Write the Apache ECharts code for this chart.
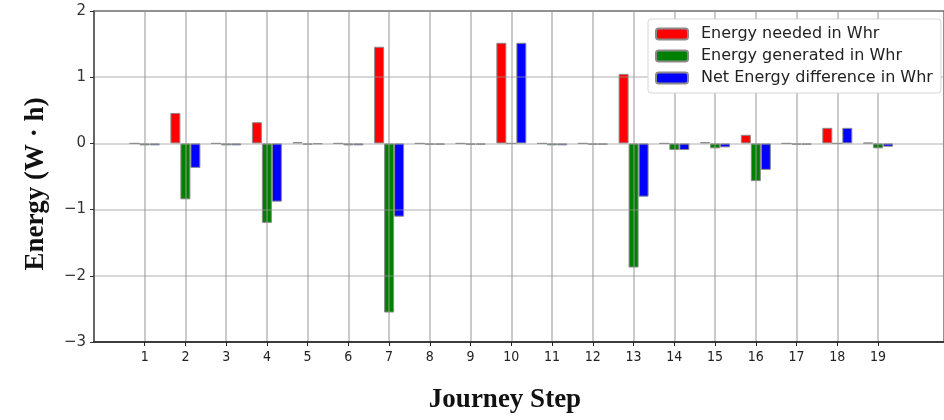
<!DOCTYPE html>
<html>
<head>
<meta charset="utf-8">
<script src="https://cdn.jsdelivr.net/npm/echarts@6/dist/echarts.min.js"></script>
<style>
  html, body { margin: 0; padding: 0; background: #fff; }
  #chart { width: 944px; height: 420px; }
</style>
</head>
<body>
<div id="chart"></div>
<script>
// journey steps on the x axis
var steps = [1, 2, 3, 4, 5, 6, 7, 8, 9, 10, 11, 12, 13, 14, 15, 16, 17, 18, 19];
// energy values in Whr
var needed = [0, 0.46, 0, 0.32, 0.02, 0, 1.46, 0, 0, 1.52, 0, 0, 1.05, 0, 0.02, 0.13, 0, 0.235, 0.01];
var generated = [-0.03, -0.845, -0.03, -1.2, -0.02, -0.03, -2.555, -0.02, -0.02, 0, -0.03, -0.02, -1.875, -0.1, -0.075, -0.57, -0.02, 0, -0.075];
var net = [-0.03, -0.37, -0.03, -0.88, -0.01, -0.03, -1.107, -0.02, -0.02, 1.52, -0.03, -0.02, -0.805, -0.1, -0.06, -0.40, -0.02, 0.235, -0.05];
var yTicks = [-3, -2, -1, 0, 1, 2];

var chart = echarts.init(document.getElementById('chart'), null, {renderer: 'canvas'});

function pairs(vals) {
    return steps.map(function (s, i) { return [s, vals[i]]; });
}

function barSeries(name, color, vals) {
    return {
        name: name,
        type: 'bar',
        barWidth: 10,
        barGap: '0%',
        data: pairs(vals),
        itemStyle: {
            color: color,
            borderColor: '#8a8a8a',
            borderWidth: 1
        },
        emphasis: {disabled: true},
        animation: false
    };
}

var option = {
    animation: false,
    grid: {
        left: 94,
        right: -1,
        top: 11,
        bottom: 78,
        show: true,
        borderColor: '#222',
        borderWidth: 1
    },
    legend: {
        orient: 'vertical',
        left: 648,
        top: 19,
        backgroundColor: '#fff',
        borderColor: '#d6d6d6',
        borderWidth: 1,
        borderRadius: 3,
        padding: [7, 8, 7, 7],
        itemWidth: 32,
        itemHeight: 11,
        itemGap: 6,
        textStyle: {
            fontFamily: 'DejaVu Sans',
            fontSize: 16,
            color: '#222',
            padding: [0, 0, 0, 8]
        },
        data: ['Energy needed in Whr', 'Energy generated in Whr', 'Net Energy difference in Whr']
    },
    xAxis: {
        type: 'value',
        min: -0.243,
        max: 20.618,
        z: 3,
        axisLine: {show: true, onZero: false, lineStyle: {color: '#222', width: 1.5}},
        axisTick: {show: true, length: 4, customValues: steps, lineStyle: {color: '#222'}},
        axisLabel: {
            customValues: steps,
            margin: 8,
            fontFamily: 'DejaVu Sans Condensed, DejaVu Sans',
            fontSize: 14,
            color: '#222'
        },
        splitLine: {show: true, lineStyle: {color: 'rgba(150,150,150,0.5)', width: 2}}
    },
    yAxis: {
        type: 'value',
        min: yTicks[0],
        max: yTicks[yTicks.length - 1],
        interval: 1,
        z: 3,
        axisLine: {show: true, onZero: false, lineStyle: {color: '#666', width: 2}},
        axisTick: {show: true, length: 4, lineStyle: {color: '#333'}},
        axisLabel: {
            margin: 8,
            fontFamily: 'DejaVu Sans',
            fontSize: 15,
            color: '#333',
            formatter: function (v) { return String(v).replace('-', '\u2212'); }
        },
        splitLine: {show: true, lineStyle: {color: 'rgba(150,150,150,0.5)', width: 1.5}}
    },
    graphic: [
        {
            type: 'text',
            x: 505,
            y: 400,
            style: {
                text: 'Journey Step',
                fontFamily: 'Liberation Serif',
                fontWeight: 'bold',
                fontSize: 27,
                fill: '#111',
                textAlign: 'center',
                textVerticalAlign: 'middle'
            }
        },
        {
            type: 'text',
            x: 36,
            y: 184,
            rotation: Math.PI / 2,
            style: {
                text: 'Energy (W \u00b7 h)',
                fontFamily: 'Liberation Serif',
                fontWeight: 'bold',
                fontSize: 27,
                fill: '#111',
                textAlign: 'center',
                textVerticalAlign: 'middle'
            }
        }
    ],
    series: [
        barSeries('Energy needed in Whr', '#ff0000', needed),
        barSeries('Energy generated in Whr', '#008000', generated),
        barSeries('Net Energy difference in Whr', '#0000ff', net)
    ]
};

chart.setOption(option);
</script>
</body>
</html>
